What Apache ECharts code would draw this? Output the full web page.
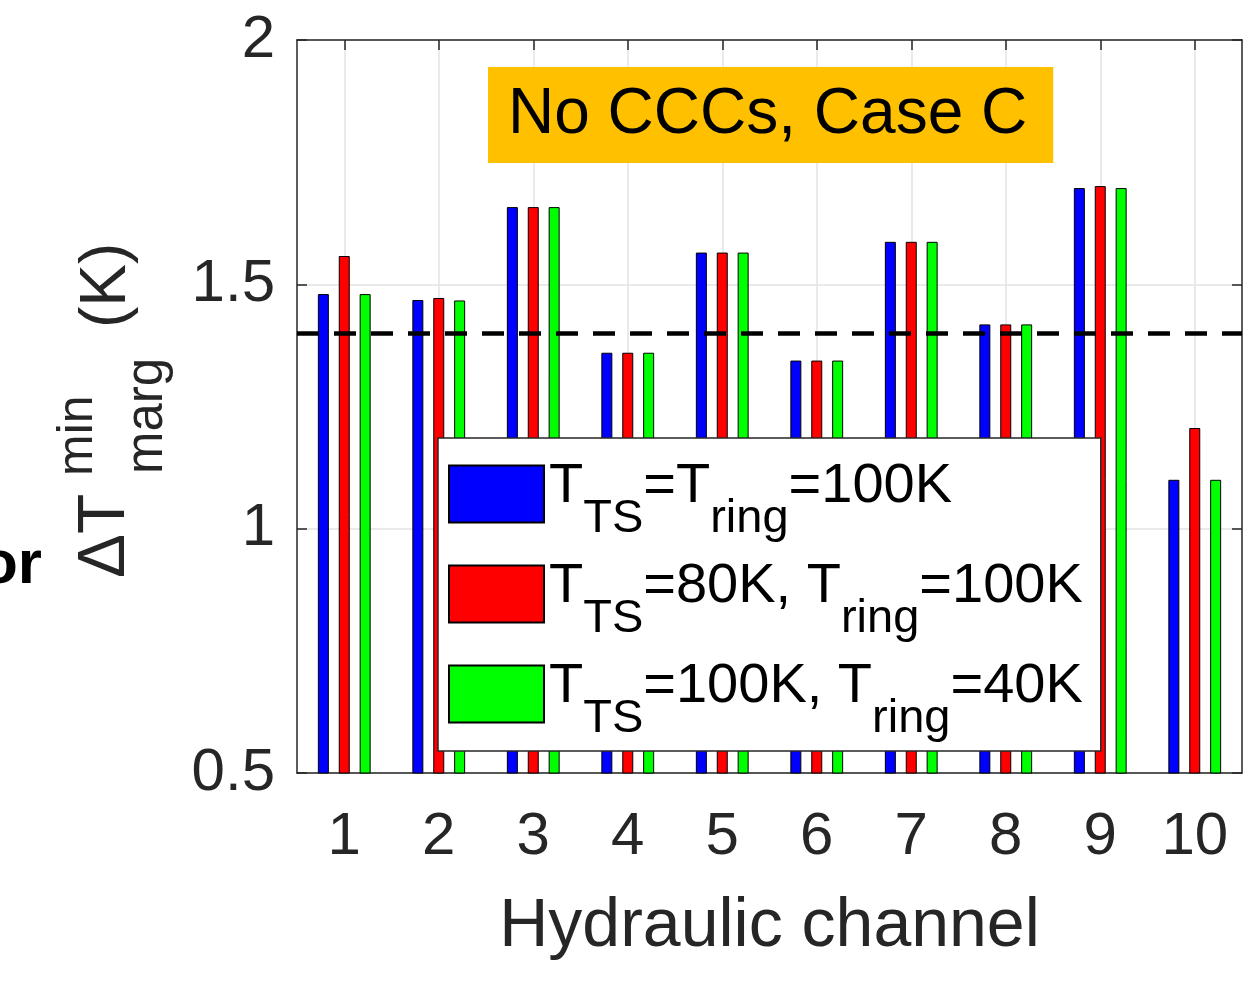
<!DOCTYPE html>
<html>
<head>
<meta charset="utf-8">
<script src="https://cdn.jsdelivr.net/npm/echarts@6.0.0/dist/echarts.min.js"></script>
<style>
  html, body { margin: 0; padding: 0; background: #fff; }
  #chart { width: 1260px; height: 984px; }
</style>
</head>
<body>
<div id="chart"></div>
<script>
const channels = ['1', '2', '3', '4', '5', '6', '7', '8', '9', '10'];
const seriesNames = ['T_TS=T_ring=100K', 'T_TS=80K, T_ring=100K', 'T_TS=100K, T_ring=40K'];
const baseCase = [1.48, 1.468, 1.658, 1.36, 1.565, 1.344, 1.587, 1.418, 1.697, 1.10];
const ts80Case = [1.558, 1.472, 1.658, 1.36, 1.565, 1.344, 1.587, 1.418, 1.701, 1.206];
const ring40Case = [1.48, 1.467, 1.658, 1.36, 1.565, 1.344, 1.587, 1.418, 1.697, 1.10];
const yTicks = [0.5, 1, 1.5, 2];
const threshold = 1.4;

const FONT = '"Liberation Sans", Arial, Helvetica, sans-serif';
const AXIS_COLOR = '#262626';
const colors = ['#0000ff', '#ff0000', '#00ff00'];

// legend labels with sub-scripts
const legendRich = {
  'T_TS=T_ring=100K': '{m|T}{s|TS}{m|=T}{s|ring}{m|=100K}',
  'T_TS=80K, T_ring=100K': '{m|T}{s|TS}{m|=80K, T}{s|ring}{m|=100K}',
  'T_TS=100K, T_ring=40K': '{m|T}{s|TS}{m|=100K, T}{s|ring}{m|=40K}'
};

const chart = echarts.init(document.getElementById('chart'), null, { renderer: 'canvas' });

const values = [baseCase, ts80Case, ring40Case];
const series = seriesNames.map((name, i) => ({
  name,
  type: 'bar',
  xAxisIndex: 0,
  yAxisIndex: 0,
  data: values[i],
  barWidth: 11,
  barGap: '90%',
  itemStyle: { color: colors[i], borderColor: '#000', borderWidth: 1 },
  emphasis: { disabled: true },
  animation: false
}));

series[2].markLine = {
  silent: true,
  symbol: 'none',
  z: 10,
  label: { show: false },
  lineStyle: { color: '#000', type: [22, 15], width: 4.5 },
  data: [{ yAxis: threshold }]
};

const yMin = yTicks[0];
const yMax = yTicks[yTicks.length - 1];
const yStep = yTicks[1] - yTicks[0];

chart.setOption({
  animation: false,
  backgroundColor: '#fff',
  textStyle: { fontFamily: FONT },
  title: {
    text: 'No CCCs, Case C',
    left: 488,
    top: 67,
    backgroundColor: '#ffc000',
    padding: [0, 26, 0, 20],
    textStyle: { fontSize: 64, lineHeight: 96, color: '#000', fontWeight: 'normal', fontFamily: FONT }
  },
  grid: { left: 297, right: 18, top: 40, bottom: 211, outerBoundsMode: 'none', containLabel: false },
  legend: {
    orient: 'vertical',
    left: 438,
    top: 438,
    padding: [21, 18, 8, 10],
    itemGap: 16,
    itemWidth: 95,
    itemHeight: 57,
    icon: 'rect',
    backgroundColor: '#fff',
    borderColor: AXIS_COLOR,
    borderWidth: 1.5,
    selectedMode: false,
    data: seriesNames,
    formatter: name => legendRich[name],
    textStyle: {
      color: '#000',
      fontFamily: FONT,
      padding: [14, 0, 0, 0],
      rich: {
        m: { fontSize: 56, lineHeight: 84, verticalAlign: 'top', color: '#000', fontFamily: FONT },
        s: { fontSize: 47, lineHeight: 84, verticalAlign: 'bottom', color: '#000', fontFamily: FONT }
      }
    }
  },
  xAxis: [
    {
      type: 'category',
      data: channels,
      position: 'bottom',
      name: 'Hydraulic channel',
      nameLocation: 'middle',
      nameGap: 120,
      nameTextStyle: { fontSize: 68, color: AXIS_COLOR, fontFamily: FONT },
      axisLine: { show: true, lineStyle: { color: AXIS_COLOR, width: 1.5 } },
      axisTick: { show: true, inside: true, alignWithLabel: true, length: 10, lineStyle: { color: AXIS_COLOR, width: 1.5 } },
      axisLabel: { fontSize: 60, color: AXIS_COLOR, margin: 34, fontFamily: FONT },
      splitLine: { show: true, alignWithLabel: true, lineStyle: { color: '#e3e3e3', width: 1.5 } }
    },
    {
      type: 'category',
      data: channels,
      position: 'top',
      axisLine: { show: true, lineStyle: { color: AXIS_COLOR, width: 1.5 } },
      axisTick: { show: true, inside: true, alignWithLabel: true, length: 10, lineStyle: { color: AXIS_COLOR, width: 1.5 } },
      axisLabel: { show: false },
      splitLine: { show: false }
    }
  ],
  yAxis: [
    {
      type: 'value',
      min: yMin,
      max: yMax,
      interval: yStep,
      position: 'left',
      axisLine: { show: true, lineStyle: { color: AXIS_COLOR, width: 1.5 } },
      axisTick: { show: true, inside: true, length: 10, lineStyle: { color: AXIS_COLOR, width: 1.5 } },
      axisLabel: { fontSize: 60, color: AXIS_COLOR, margin: 22, fontFamily: FONT, formatter: v => String(v), padding: [10, 0, 0, 0] },
      splitLine: { show: true, lineStyle: { color: '#e3e3e3', width: 1.5 } }
    },
    {
      type: 'value',
      min: yMin,
      max: yMax,
      interval: yStep,
      position: 'right',
      axisLine: { show: true, lineStyle: { color: AXIS_COLOR, width: 1.5 } },
      axisTick: { show: true, inside: true, length: 10, lineStyle: { color: AXIS_COLOR, width: 1.5 } },
      axisLabel: { show: false },
      splitLine: { show: false }
    }
  ],
  graphic: [
    // y axis title, rotated, built from pieces for super/subscripts
    {
      type: 'text', x: 106, y: 578, rotation: Math.PI / 2, silent: true,
      style: { text: '\u0394T', font: '66px ' + FONT, fill: AXIS_COLOR, align: 'left', verticalAlign: 'middle' }
    },
    {
      type: 'text', x: 78, y: 476, rotation: Math.PI / 2, silent: true,
      style: { text: 'min', font: '50px ' + FONT, fill: AXIS_COLOR, align: 'left', verticalAlign: 'middle' }
    },
    {
      type: 'text', x: 148, y: 474, rotation: Math.PI / 2, silent: true,
      style: { text: 'marg', font: '51px ' + FONT, fill: AXIS_COLOR, align: 'left', verticalAlign: 'middle' }
    },
    {
      type: 'text', x: 107, y: 328, rotation: Math.PI / 2, silent: true,
      style: { text: '(K)', font: '64px ' + FONT, fill: AXIS_COLOR, align: 'left', verticalAlign: 'middle' }
    },
    // clipped word from the neighbouring slide
    {
      type: 'text', x: 42, y: 566, silent: true,
      style: { text: 'or', font: 'bold 62px ' + FONT, fill: '#000', align: 'right', verticalAlign: 'middle' }
    }
  ],
  series
});
</script>
</body>
</html>
